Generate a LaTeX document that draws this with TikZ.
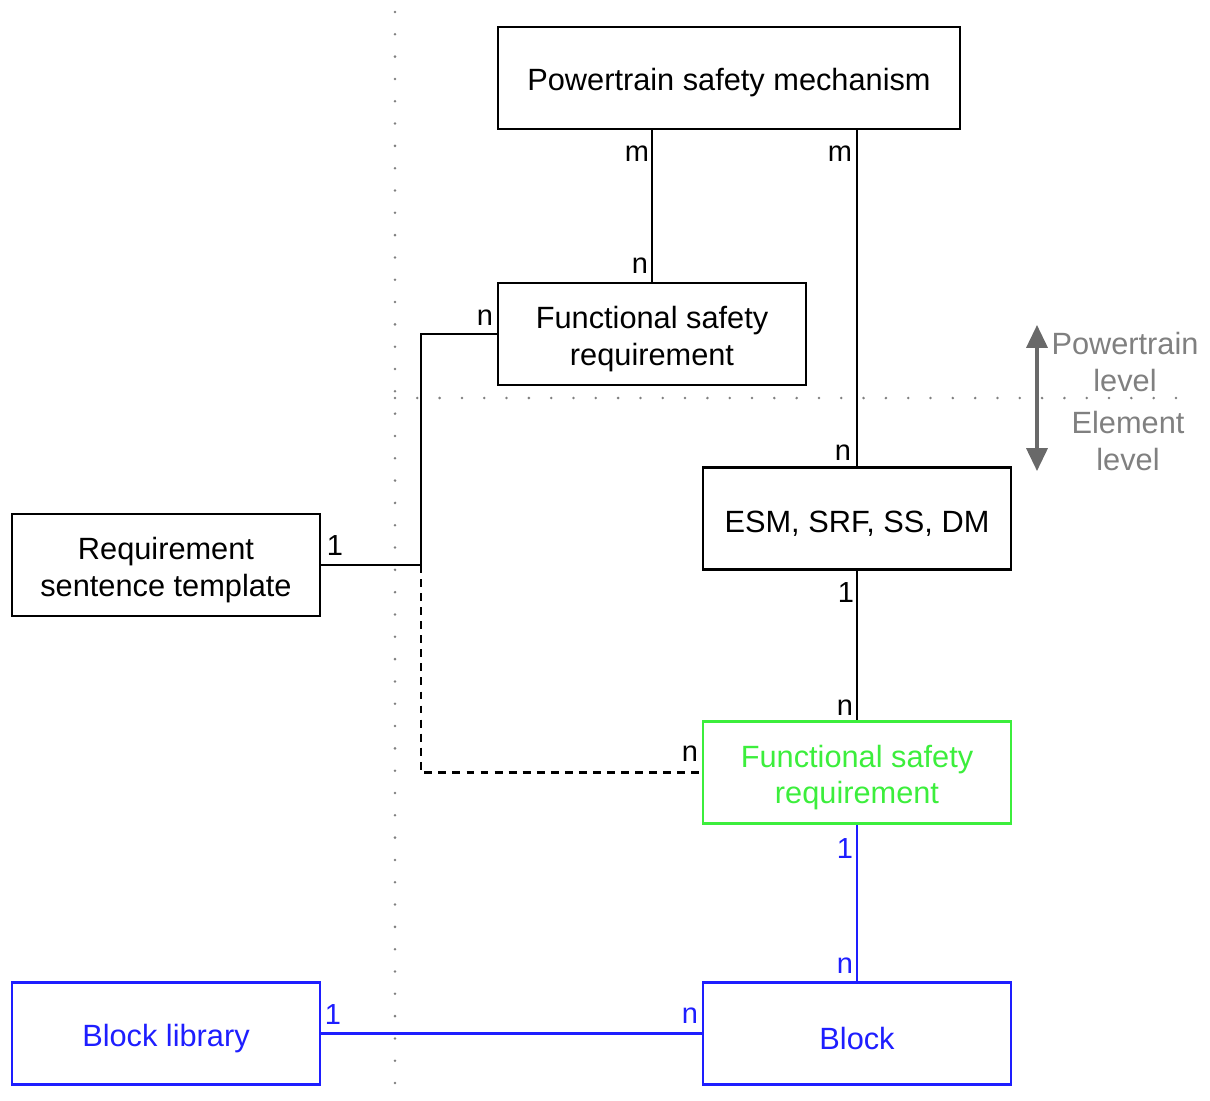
\documentclass[tikz,border=0pt]{standalone}
\usepackage{fontspec}
\setmainfont{Liberation Sans}
\usetikzlibrary{arrows.meta}
\definecolor{fsgreen}{RGB}{60,238,60}
\definecolor{libblue}{RGB}{30,30,255}
\definecolor{levelgray}{RGB}{128,128,128}
\definecolor{arrowgray}{RGB}{105,105,105}
% invisible strut that lowers a box's text slightly
\newcommand\liftstrut{\rule{0pt}{18.4pt}}
\begin{document}
\begin{tikzpicture}[x=0.02cm,y=-0.02cm,
  every node/.style={font=\fontsize{17.5}{21}\selectfont},
  box/.style={draw,line width=1.5pt,rectangle,minimum height=2.04cm,align=center,inner sep=0pt},
  widebox/.style={box,minimum width=9.24cm},
  narrowbox/.style={box,minimum width=6.16cm},
  link/.style={line width=1.3pt},
  mult/.style={inner sep=0pt,font=\fontsize{16.5}{20}\selectfont},
  sep/.style={levelgray,line width=1.6pt,dash pattern=on 0pt off 12.7pt,line cap=round},
  lvl/.style={levelgray,align=center}
]
\useasboundingbox (0,0) rectangle (1210,1100);

% level separators
\draw[sep] (395,12) -- (395,1092);
\draw[sep] (395,398) -- (1197,398);

% boxes
\node[widebox] (psm) at (729,78) {\liftstrut Powertrain safety mechanism};
\node[narrowbox] (fsr1) at (652,334) {\liftstrut Functional safety\\requirement};
\node[narrowbox] (esm) at (857,518.5) {\liftstrut ESM, SRF, SS, DM};
\node[narrowbox,draw=fsgreen,text=fsgreen] (fsr2) at (857,772.5) {\liftstrut Functional safety\\requirement};
\node[narrowbox,draw=libblue,text=libblue] (blk) at (857,1033.5) {\liftstrut Block};
\node[narrowbox] (rst) at (166,565) {\liftstrut Requirement\\sentence template};
\node[narrowbox,draw=libblue,text=libblue] (lib) at (166,1033.5) {\liftstrut Block library};

% connectors
\coordinate (j) at (421,565);
\draw[link] (fsr1.north) -- (fsr1.north |- psm.south);
\draw[link] (esm.north) -- (esm.north |- psm.south);
\draw[link] (fsr1.west) -| (j) -- (rst.east);
\draw[link,dash pattern=on 4.5pt off 3.5pt] (j) |- (fsr2.west);
\draw[link] (esm.south) -- (fsr2.north);
\draw[link,libblue] (fsr2.south) -- (blk.north);
\draw[link,libblue] (lib.east) -- (blk.west);

% multiplicities
\node[mult] (m1) at (637,154) {m};
\node[mult] (n1) at (640,266) {n};
\node[mult] (m2) at (840,154) {m};
\node[mult] (n2) at (843,453) {n};
\node[mult] (n3) at (485,318) {n};
\node[mult] (o1) at (335,546) {1};
\node[mult] (o2) at (846,593) {1};
\node[mult] (n4) at (845,708) {n};
\node[mult] (n5) at (690,754) {n};
\node[mult,text=libblue] (o3) at (845,849) {1};
\node[mult,text=libblue] (n6) at (845,966) {n};
\node[mult,text=libblue] (o4) at (333,1015) {1};
\node[mult,text=libblue] (n7) at (690,1016) {n};

% level indicator
\coordinate (up) at (1037,325);
\coordinate (down) at (1037,471);
\draw[arrowgray,line width=1.8pt,{Triangle[length=13pt,width=12pt]}-{Triangle[length=13pt,width=12pt]}] (up) -- (down);
\node[lvl] (pl) at (1125,362) {Powertrain\\level};
\node[lvl] (el) at (1128,441) {Element\\level};
\end{tikzpicture}
\end{document}
